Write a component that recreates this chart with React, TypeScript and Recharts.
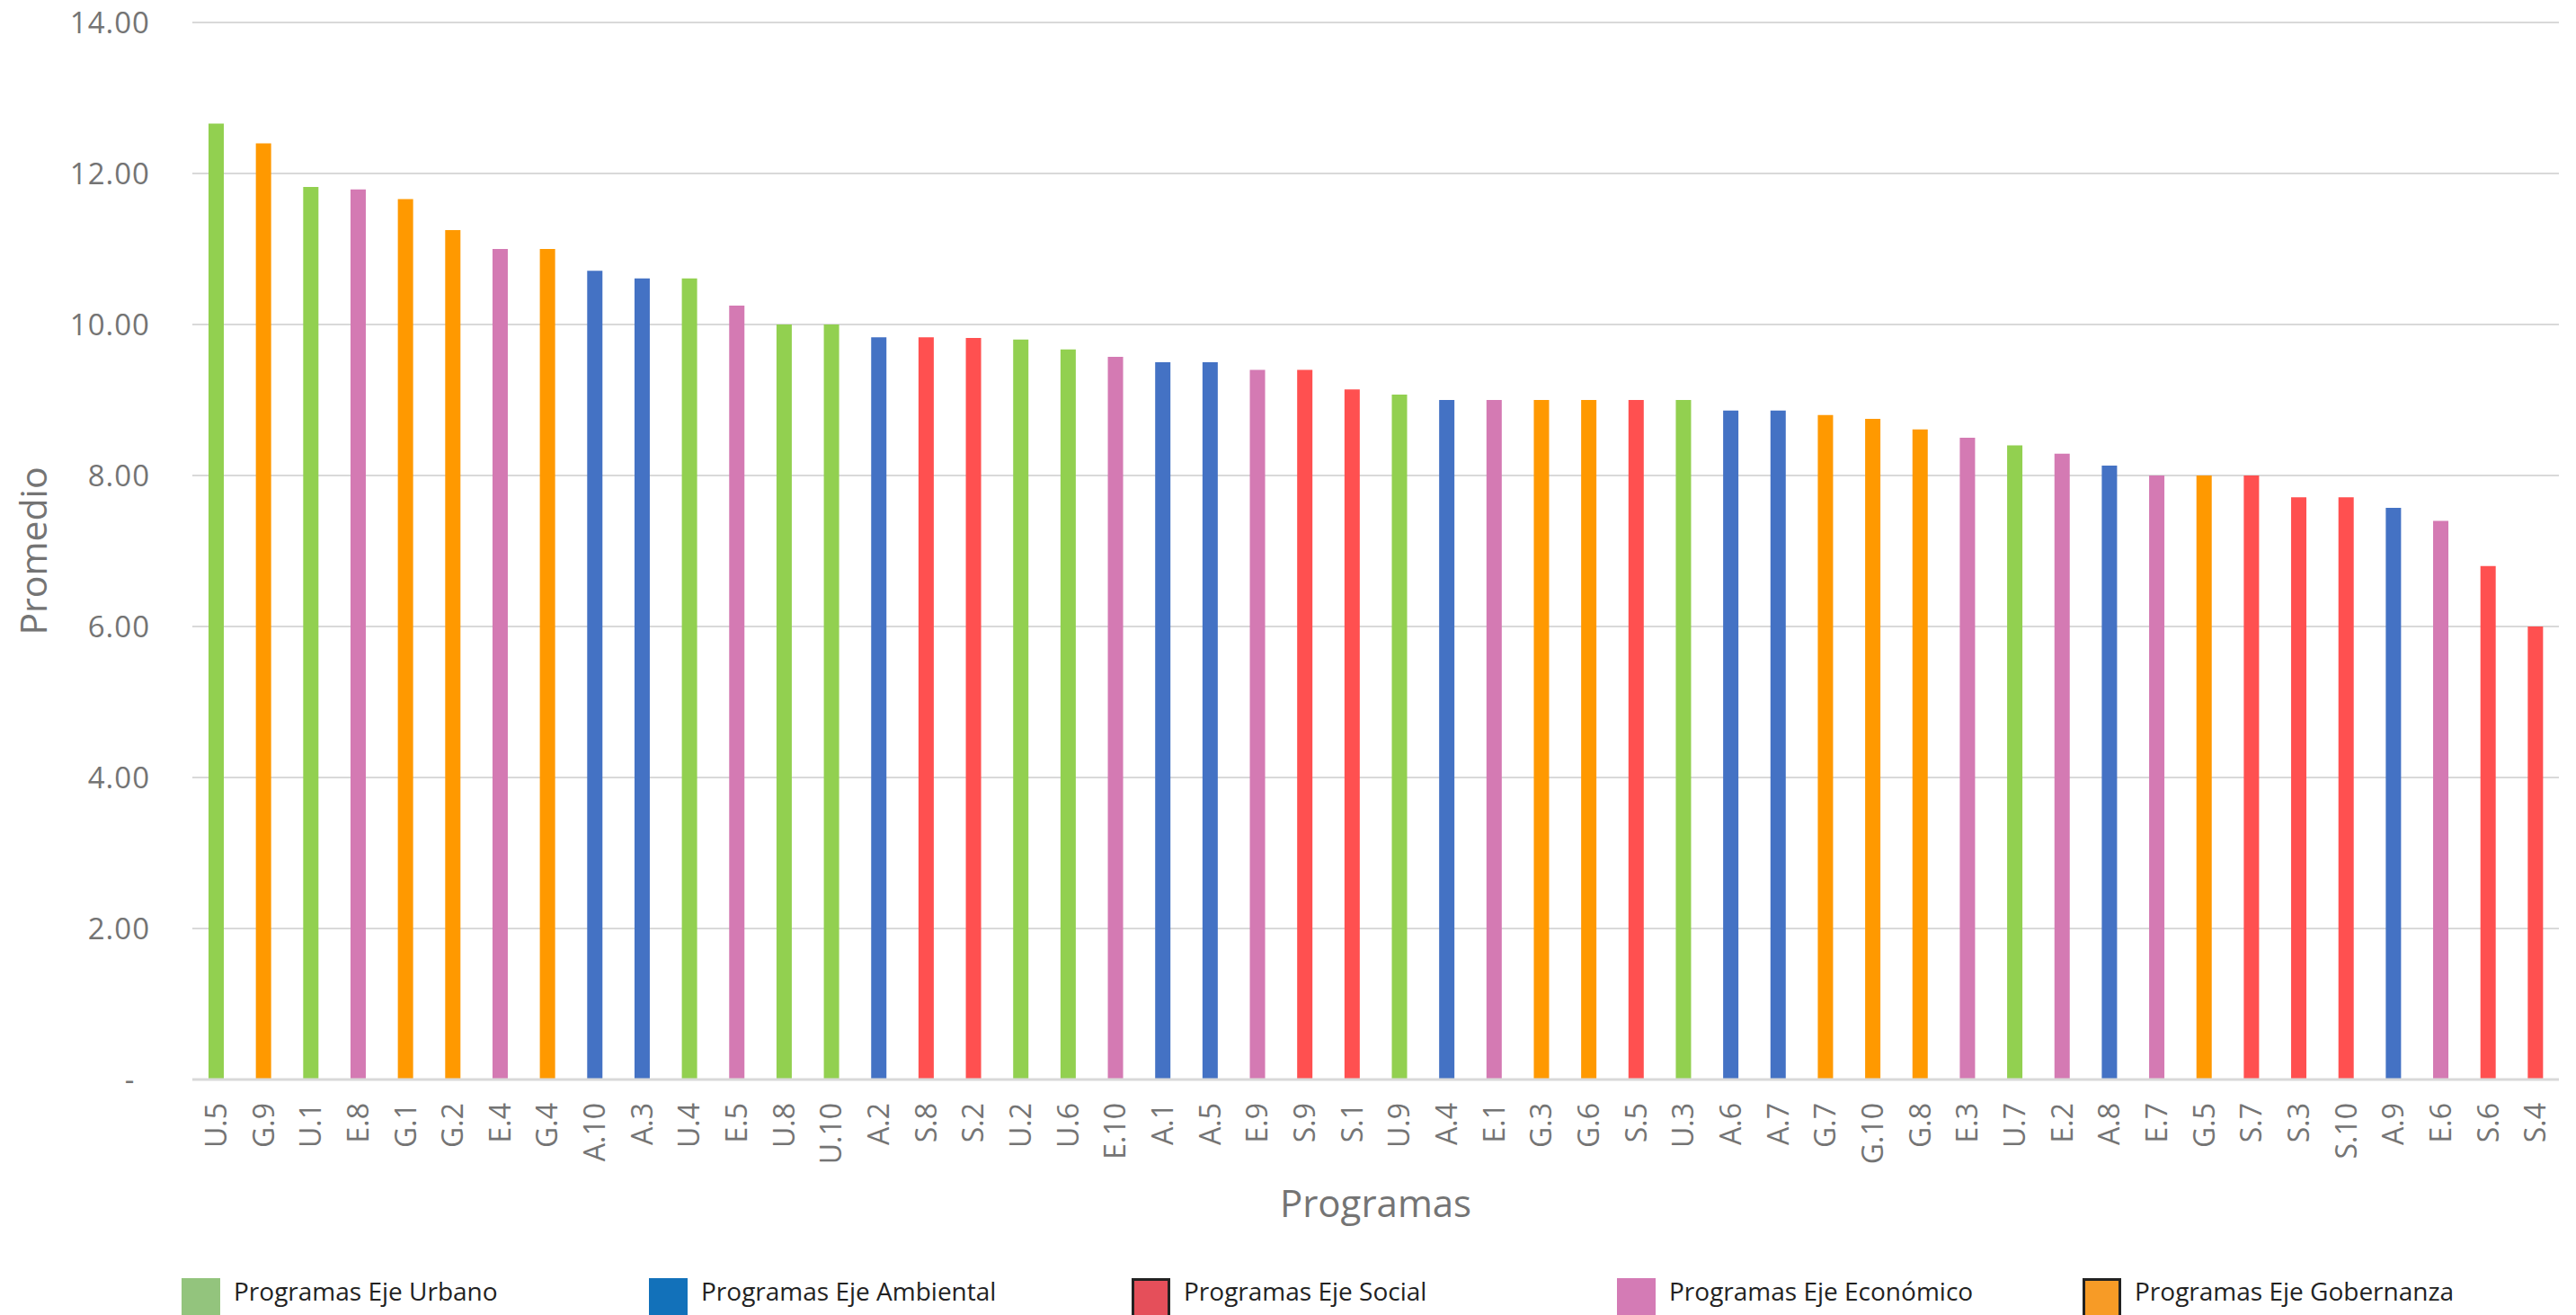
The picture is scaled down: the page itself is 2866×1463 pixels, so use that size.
import React from "react";
import { BarChart, Bar, XAxis, YAxis, CartesianGrid, Cell, Legend } from "recharts";

// Program codes (x-axis categories), in chart order
const programs = [
  "U.5", "G.9", "U.1", "E.8", "G.1", "G.2", "E.4", "G.4", "A.10", "A.3",
  "U.4", "E.5", "U.8", "U.10", "A.2", "S.8", "S.2", "U.2", "U.6", "E.10",
  "A.1", "A.5", "E.9", "S.9", "S.1", "U.9", "A.4", "E.1", "G.3", "G.6",
  "S.5", "U.3", "A.6", "A.7", "G.7", "G.10", "G.8", "E.3", "U.7", "E.2",
  "A.8", "E.7", "G.5", "S.7", "S.3", "S.10", "A.9", "E.6", "S.6", "S.4",
];

// Promedio per program
const promedio = [
  12.66, 12.4, 11.82, 11.79, 11.66, 11.25, 11.0, 11.0, 10.71, 10.61,
  10.61, 10.25, 10.0, 10.0, 9.83, 9.83, 9.82, 9.8, 9.67, 9.57,
  9.5, 9.5, 9.4, 9.4, 9.14, 9.07, 9.0, 9.0, 9.0, 9.0,
  9.0, 9.0, 8.86, 8.86, 8.8, 8.75, 8.61, 8.5, 8.4, 8.29,
  8.13, 8.0, 8.0, 8.0, 7.71, 7.71, 7.57, 7.4, 6.8, 6.0,
];

const yTicks = [0, 2, 4, 6, 8, 10, 12, 14];

// Axis (eje) per program prefix
const ejeKeys = ["U", "A", "S", "E", "G"];
const ejeNames = [
  "Programas Eje Urbano",
  "Programas Eje Ambiental",
  "Programas Eje Social",
  "Programas Eje Económico",
  "Programas Eje Gobernanza",
];
const barColors = ["#92D050", "#4472C4", "#FF5050", "#D47AB3", "#FF9900"];
const legendColors = ["#93C47D", "#1271BA", "#E54F5A", "#D47BB5", "#F79B26"];
const legendBorder = [false, false, true, false, true];
const legendLeft = [202, 722, 1259, 1799, 2317];

const data = programs.map((p, i) => ({ programa: p, promedio: promedio[i] }));
const colorFor = (p: string) => barColors[ejeKeys.indexOf(p.split(".")[0])];

const FONT = "'Open Sans', sans-serif";
const GRAY = "#747474";

const XTick = (props: any) => {
  const { x, y, payload } = props;
  return (
    <g transform={`translate(${x},${y})`}>
      <text
        transform="rotate(-90)"
        x={0}
        y={0}
        dy="0.36em"
        textAnchor="end"
        fill={GRAY}
        fontSize={32}
        fontFamily={FONT}
      >
        {payload.value}
      </text>
    </g>
  );
};

const YTick = (props: any) => {
  const { x, y, payload } = props;
  if (payload.value === 0) {
    return (
      <text x={x - 23} y={y} dy="0.36em" textAnchor="middle" fill={GRAY} fontSize={33} fontFamily={FONT}>
        -
      </text>
    );
  }
  return (
    <text x={x} y={y} dy="0.36em" textAnchor="end" fill={GRAY} fontSize={33} fontFamily={FONT} letterSpacing={1}>
      {Number(payload.value).toFixed(2)}
    </text>
  );
};

const renderLegend = () => (
  <div style={{ position: "relative", height: 73, width: "100%", overflow: "hidden" }}>
    {ejeNames.map((name, i) => (
      <div key={name} style={{ position: "absolute", left: legendLeft[i], top: 0, height: 73 }}>
        <div
          style={{
            position: "absolute",
            left: 0,
            top: 32,
            width: 43,
            height: 50,
            boxSizing: "border-box",
            background: legendColors[i],
            border: legendBorder[i] ? "3px solid #222" : "none",
          }}
        />
        <span
          style={{
            position: "absolute",
            left: 58,
            top: 32,
            whiteSpace: "nowrap",
            fontFamily: FONT,
            fontSize: 28,
            lineHeight: "28px",
            color: "#222",
          }}
        >
          {name}
        </span>
      </div>
    ))}
  </div>
);

export default function App() {
  return (
    <div style={{ position: "absolute", left: 0, top: 0, width: 2866, height: 1463, overflow: "hidden", background: "#fff" }}>
      <BarChart
        width={2866}
        height={1463}
        data={data}
        margin={{ top: 25, right: 19, left: 0, bottom: 0 }}
        barCategoryGap={0}
      >
        <CartesianGrid vertical={false} stroke="#D9D9D9" strokeWidth={2} />
        <XAxis
          dataKey="programa"
          interval={0}
          height={189}
          tickLine={false}
          tickSize={0}
          tickMargin={26}
          axisLine={{ stroke: "#D9D9D9", strokeWidth: 3 }}
          tick={<XTick />}
          label={{
            value: "Programas",
            position: "insideBottom",
            offset: 36,
            fill: GRAY,
            fontSize: 42,
            fontFamily: FONT,
          }}
        />
        <YAxis
          width={214}
          domain={[0, 14]}
          ticks={yTicks}
          interval={0}
          axisLine={false}
          tickLine={false}
          tickSize={0}
          tickMargin={47}
          tick={<YTick />}
          label={{
            content: (p: any) => {
              const vb = p.viewBox || { x: 0, y: 25, width: 214, height: 1176 };
              const cx = vb.x + 37;
              const cy = vb.y + vb.height / 2;
              return (
                <text
                  transform={`translate(${cx},${cy}) rotate(-90)`}
                  textAnchor="middle"
                  dy="0.36em"
                  fill={GRAY}
                  fontSize={41}
                  fontFamily={FONT}
                >
                  Promedio
                </text>
              );
            },
          }}
        />
        <Legend content={renderLegend} verticalAlign="bottom" height={73} />
        <Bar dataKey="promedio" barSize={17} isAnimationActive={false}>
          {data.map((d) => (
            <Cell key={d.programa} fill={colorFor(d.programa)} />
          ))}
        </Bar>
      </BarChart>
    </div>
  );
}
